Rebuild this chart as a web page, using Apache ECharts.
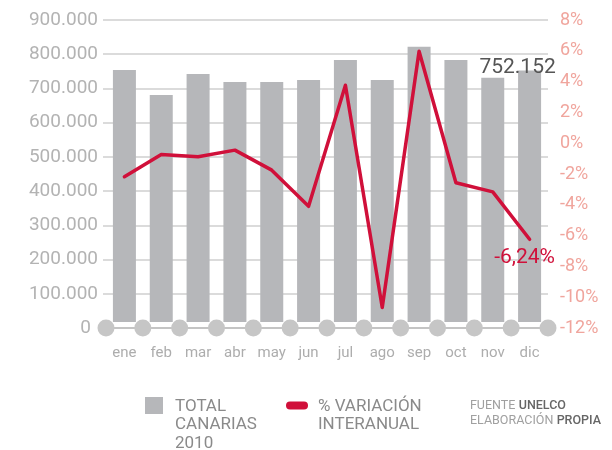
<!DOCTYPE html>
<html>
<head>
<meta charset="utf-8">
<script src="https://cdn.jsdelivr.net/npm/echarts@6/dist/echarts.min.js"></script>
<style>
html,body{margin:0;padding:0;background:#fff;}
#chart{width:612px;height:450px;}
</style>
</head>
<body>
<div id="chart"></div>
<script>
// ---- data ----
var months = ['ene','feb','mar','abr','may','jun','jul','ago','sep','oct','nov','dic'];
var totalCanarias = [754000, 681000, 742000, 719000, 719000, 725000, 783000, 725000, 822000, 783000, 731000, 752152];
var variacion = [-2.18, -0.73, -0.88, -0.45, -1.75, -4.1, 3.76, -10.67, 5.97, -2.57, -3.16, -6.24];
var boundaries = [0,1,2,3,4,5,6,7,8,9,10,11,12];
var leftTicks = {min: 0, max: 900000, interval: 100000};
var rightTicks = {min: -12, max: 8, interval: 2};

// ---- layout ----
var FONT = 'Roboto, "Liberation Sans", sans-serif';
var gridLeft = 106, gridRight = 64, gridTop = 20, gridBottom = 122, barGap = 6;
var plotH = 450 - gridTop - gridBottom;
var barMin = leftTicks.max * (barGap / plotH);

function thousands(v){
  return String(v).replace(/\B(?=(\d{3})+(?!\d))/g, '.');
}

var lastIdx = totalCanarias.length - 1;
var barData = totalCanarias.map(function(v, i){
  if (i === lastIdx) {
    return {value: v, label: {show: true, position: 'top', distance: 0, offset: [-12, 8],
      formatter: function(p){ return thousands(p.value); },
      fontFamily: FONT, fontSize: 21, color: '#555555'}};
  }
  return v;
});
var lineData = variacion.map(function(v, i){
  if (i === lastIdx) {
    return {value: v, label: {show: true, position: 'bottom', distance: 7, offset: [-5, 0],
      formatter: function(p){ return String(p.value).replace('.', ',') + '%'; },
      fontFamily: FONT, fontSize: 21, color: '#d0103a'}};
  }
  return v;
});

var chart = echarts.init(document.getElementById('chart'), null, {renderer: 'canvas'});
chart.setOption({
  animation: false,
  backgroundColor: '#ffffff',
  grid: [
    {left: gridLeft, right: gridRight, top: gridTop, bottom: gridBottom},
    {left: gridLeft, right: gridRight, top: gridTop, bottom: gridBottom + barGap}
  ],
  xAxis: [
    {type: 'category', gridIndex: 0, data: months,
     axisLine: {show: true, lineStyle: {color: '#c4c4c4', width: 2}},
     axisTick: {show: false},
     axisLabel: {margin: 18, color: '#adadad', fontFamily: FONT, fontSize: 15}},
    {type: 'value', gridIndex: 0, min: 0, max: 12, show: false},
    {type: 'category', gridIndex: 1, data: months, show: false}
  ],
  yAxis: [
    {type: 'value', gridIndex: 0, min: leftTicks.min, max: leftTicks.max, interval: leftTicks.interval,
     axisLine: {show: false},
     axisTick: {show: true, length: 3, lineStyle: {color: '#cfcfcf', width: 1.5}},
     splitLine: {show: true, lineStyle: {color: '#cfcfcf', width: 1.5}},
     axisLabel: {margin: 8, color: '#b3b3b3', fontFamily: FONT, fontSize: 19,
       formatter: function(v){ return v === 0 ? '{z|0}' : thousands(v); },
       rich: {z: {fontFamily: FONT, fontSize: 19, color: '#b3b3b3', padding: [0, 7, 0, 0]}}}},
    {type: 'value', gridIndex: 0, position: 'right', min: rightTicks.min, max: rightTicks.max, interval: rightTicks.interval,
     axisLine: {show: false}, axisTick: {show: false}, splitLine: {show: false},
     axisLabel: {margin: 12, color: '#f0a59d', fontFamily: FONT, fontSize: 18,
       formatter: function(v){ return v + '%'; }}},
    {type: 'value', gridIndex: 1, min: barMin, max: leftTicks.max, show: false}
  ],
  series: [
    {name: 'TOTAL CANARIAS 2010', type: 'bar', xAxisIndex: 2, yAxisIndex: 2, data: barData,
     barWidth: 23, clip: true, itemStyle: {color: '#b6b7ba'}, z: 2},
    {name: 'límites', type: 'scatter', xAxisIndex: 1, yAxisIndex: 0, silent: true,
     data: boundaries.map(function(b){ return [b, 0]; }),
     symbol: 'circle', symbolSize: 17, itemStyle: {color: '#c6c6c6', opacity: 1}, z: 4},
    {name: '% VARIACIÓN INTERANUAL', type: 'line', xAxisIndex: 0, yAxisIndex: 1, data: lineData,
     symbol: 'circle', symbolSize: 1, showSymbol: true, itemStyle: {color: '#d0103a'},
     lineStyle: {color: '#d0103a', width: 3.5, join: 'round', cap: 'round'}, z: 5}
  ],
  graphic: [
    {type: 'rect', left: 145, top: 397, shape: {width: 18, height: 17}, style: {fill: '#b6b7ba'}},
    {type: 'text', left: 175, top: 397, style: {text: 'TOTAL\nCANARIAS\n2010', font: '17px ' + FONT, fill: '#8a8a8a', lineHeight: 18.5}},
    {type: 'rect', left: 286, top: 401.5, shape: {width: 22, height: 8, r: 4}, style: {fill: '#d0103a'}},
    {type: 'text', left: 318, top: 397, style: {text: '% VARIACIÓN\nINTERANUAL', font: '17px ' + FONT, fill: '#8a8a8a', lineHeight: 18.5}},
    {type: 'text', right: 11, top: 399, style: {
      text: '{l|FUENTE} {b|UNELCO}\n{l|ELABORACIÓN} {b|PROPIA}', align: 'right', fill: '#a0a0a0',
      rich: {l: {fontFamily: FONT, fontSize: 12.5, fill: '#a0a0a0', lineHeight: 15},
             b: {fontFamily: FONT, fontSize: 12.5, fill: '#666666', fontWeight: 500, lineHeight: 15}}}}
  ]
});
</script>
</body>
</html>
